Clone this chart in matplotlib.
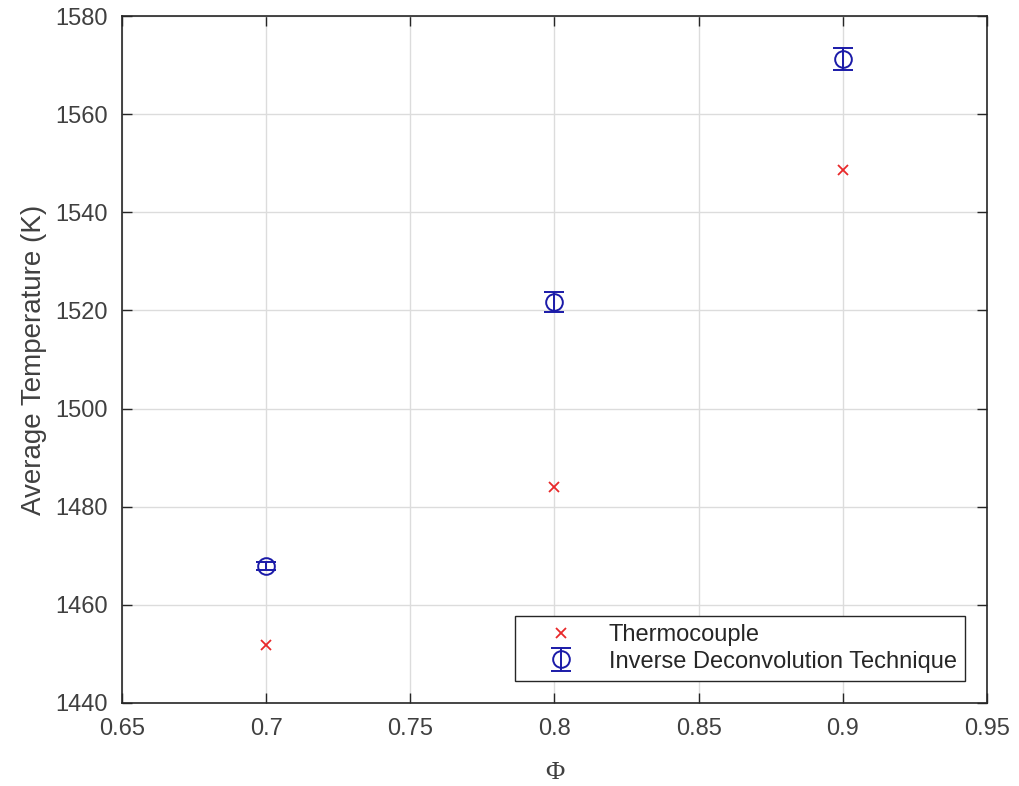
import matplotlib
matplotlib.use("Agg")
import matplotlib.pyplot as plt

phi = [0.7, 0.8, 0.9]
thermocouple = [1451.9, 1484.0, 1548.6]
inverse = [1468.0, 1521.7, 1571.3]
inverse_err = [0.8, 2.1, 2.2]

xticks = [0.65, 0.7, 0.75, 0.8, 0.85, 0.9, 0.95]
yticks = [1440, 1460, 1480, 1500, 1520, 1540, 1560, 1580]
xticklabels = ["0.65", "0.7", "0.75", "0.8", "0.85", "0.9", "0.95"]

plt.rcParams['font.family'] = ['Liberation Sans', 'DejaVu Sans']
axcol = '#262626'
txtcol = '#404040'

fig = plt.figure(figsize=(10.2, 7.86), dpi=100)
ax = fig.add_axes([0.1196, 0.1056, 0.8480, 0.8740])

ax.plot(phi, thermocouple, linestyle='none', marker='x', color='#e8282a',
        markersize=7, markeredgewidth=1.3, label='Thermocouple')
ax.errorbar(phi, inverse, yerr=inverse_err, linestyle='none', marker='o',
            markersize=12, markerfacecolor='none', markeredgecolor='#1a1aa8',
            markeredgewidth=1.4, ecolor='#1a1aa8', elinewidth=1.4,
            capsize=7, capthick=1.4, label='Inverse Deconvolution Technique')

ax.set_xlim(0.65, 0.95)
ax.set_ylim(1440, 1580)
ax.set_xticks(xticks)
ax.set_xticklabels(xticklabels)
ax.set_yticks(yticks)
ax.grid(True, color='#dcdcdc', linewidth=1.0)
ax.set_axisbelow(True)

ax.tick_params(direction='in', length=7, width=1.0, colors=axcol,
               labelsize=17, top=True, right=True, labelcolor=txtcol)
ax.tick_params(axis='y', pad=10)
ax.tick_params(axis='x', pad=11)
for s in ax.spines.values():
    s.set_color(axcol)
    s.set_linewidth(1.2)

ax.set_ylabel('Average Temperature (K)', fontsize=20, color=txtcol, labelpad=6)
ax.set_xlabel('Φ', fontsize=19, color=txtcol,
              family=['Liberation Serif', 'DejaVu Serif'], labelpad=16)

leg = ax.legend(loc='lower right', fontsize=17, frameon=True, fancybox=False,
                edgecolor=axcol, framealpha=1, borderpad=0.35,
                labelspacing=0.2, handlelength=3.2, handletextpad=0.4,
                borderaxespad=0, bbox_to_anchor=(0.9746, 0.032))
leg.get_frame().set_linewidth(1.0)
for t in leg.get_texts():
    t.set_color('#262626')

fig.savefig('out.png', dpi=100, facecolor='white')
